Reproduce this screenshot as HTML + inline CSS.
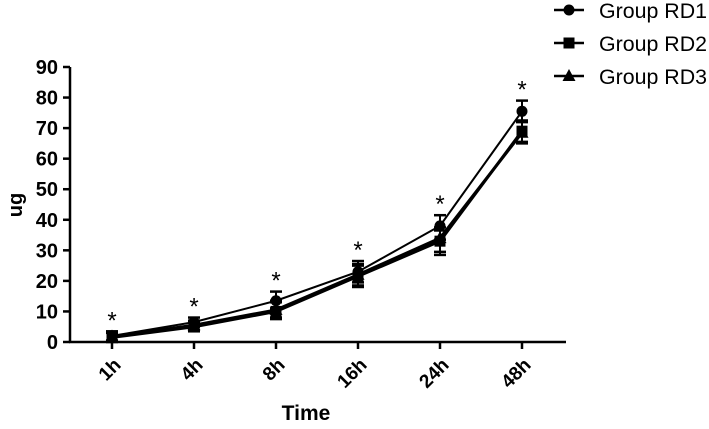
<!DOCTYPE html>
<html><head><meta charset="utf-8"><style>
body{margin:0;background:#fff;width:709px;height:424px;overflow:hidden}
svg{font-family:"Liberation Sans",Arial,sans-serif}
</style></head><body>
<svg id="chart" width="709" height="424"></svg>
<script>
const categories=["1h","4h","8h","16h","24h","48h"];
const rd1=[2,6.5,13.5,23,38,75.5];
const rd2=[1.5,5,10,21.5,33,69];
const rd3=[1.8,5.5,10.5,22,34,68.5];
const errHi=[1.5,1.5,3,3.5,3.5,3.5];
const errLo=[1.5,1.5,2.5,3.5,4.5,3.5];
const yTicks=[0,10,20,30,40,50,60,70,80,90];
const NS="http://www.w3.org/2000/svg";
const svg=document.getElementById('chart');
function yS(v){return 342-v*(275/90);}
function xS(i){return 112+i*82;}
function mk(t,a,p){const e=document.createElementNS(NS,t);for(const k in a)e.setAttribute(k,a[k]);(p||svg).appendChild(e);return e;}
let ax=mk('line',{x1:70,y1:67,x2:70,y2:343,stroke:'#000','stroke-width':2.5});


let bx=mk('line',{x1:69,y1:342,x2:566,y2:342,stroke:'#000','stroke-width':2.5});


yTicks.forEach(v=>{
  mk('line',{x1:63,y1:yS(v),x2:70,y2:yS(v),stroke:'#000','stroke-width':2.5});
  const t=mk('text',{x:58,y:yS(v)+7,'text-anchor':'end','font-size':20,'font-weight':'bold'});
  t.textContent=v;
  
  
});
categories.forEach((c,i)=>{
  mk('line',{x1:xS(i),y1:342,x2:xS(i),y2:349,stroke:'#000','stroke-width':2.5});
  const t=mk('text',{x:0,y:0,'text-anchor':'end','font-size':19,'font-weight':'bold',transform:`translate(${xS(i)+10},${366}) rotate(-45)`});
  t.textContent=c;
  
  
});
let yt=mk('text',{x:0,y:0,'text-anchor':'middle','font-size':20,'font-weight':'bold',transform:'translate(22,205) rotate(-90)'});
yt.textContent='ug';


let xt=mk('text',{x:306,y:420,'text-anchor':'middle','font-size':21,'font-weight':'bold'});
xt.textContent='Time';


const series=[[rd2,'square'],[rd3,'triangle'],[rd1,'circle']];
function marker(type,x,y,g){
  if(type==='circle')return mk('circle',{cx:x,cy:y,r:5.5,fill:'#000'},g);
  if(type==='square')return mk('rect',{x:x-5.5,y:y-5.5,width:11,height:11,fill:'#000'},g);
  return mk('polygon',{points:`${x},${y-7} ${x+6.5},${y+5} ${x-6.5},${y+5}`,fill:'#000'},g);
}
series.forEach(([vals,type])=>{
  const g=mk('g',{});
  
  
  mk('polyline',{points:vals.map((v,i)=>xS(i)+','+yS(v)).join(' '),fill:'none',stroke:'#000','stroke-width':type==='circle'?2:3},g);
  vals.forEach((v,i)=>{
    mk('line',{x1:xS(i),y1:yS(v+errHi[i]),x2:xS(i),y2:yS(v-errLo[i]),stroke:'#000','stroke-width':2},g);
    mk('line',{x1:xS(i)-6,y1:yS(v+errHi[i]),x2:xS(i)+6,y2:yS(v+errHi[i]),stroke:'#000','stroke-width':2.5},g);
    mk('line',{x1:xS(i)-6,y1:yS(v-errLo[i]),x2:xS(i)+6,y2:yS(v-errLo[i]),stroke:'#000','stroke-width':2.5},g);
    const m=marker(type,xS(i),yS(v),g);
    
    
  });
});
rd1.forEach((v,i)=>{
  const s=mk('text',{x:xS(i),y:yS(v+errHi[i])-3,'text-anchor':'middle','font-size':24});
  s.textContent='*';
  
  
});
const legend=[['Group RD1','circle',10],['Group RD2','square',43],['Group RD3','triangle',76]];
legend.forEach(([lab,type,y])=>{
  const g=mk('g',{});
  
  
  mk('line',{x1:554,y1:y,x2:584,y2:y,stroke:'#000','stroke-width':2.5},g);
  marker(type,569,y,g);
  const t=mk('text',{x:599,y:y+8,'font-size':21,textLength:108,lengthAdjust:'spacingAndGlyphs'},g);
  t.textContent=lab;
});
</script>
</body></html>
